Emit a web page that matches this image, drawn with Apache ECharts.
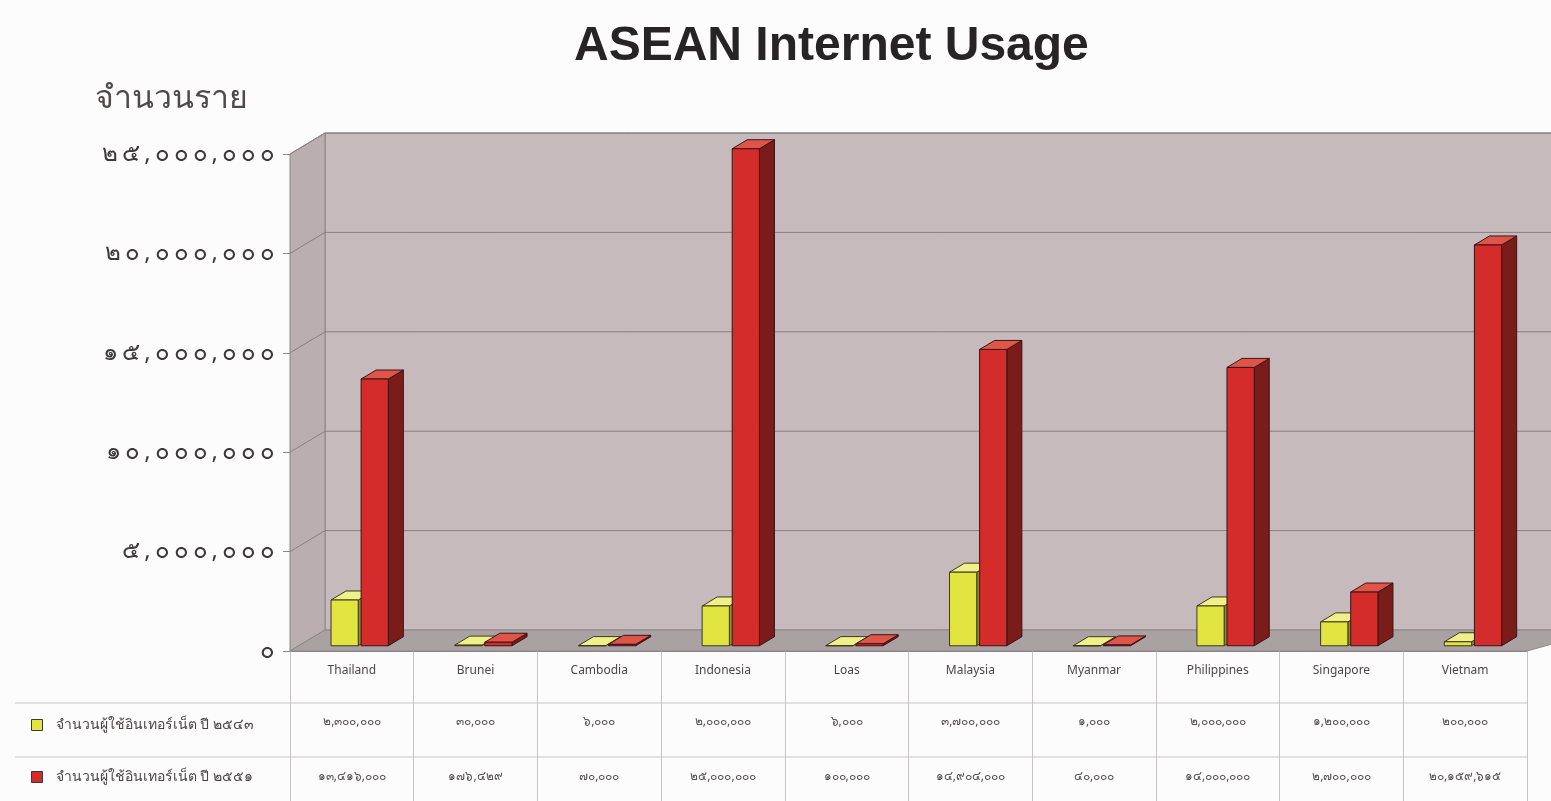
<!DOCTYPE html>
<html>
<head>
<meta charset="utf-8">
<script src="https://cdn.jsdelivr.net/npm/echarts@6/dist/echarts.min.js"></script>
<style>
  html, body { margin: 0; padding: 0; background: #fdfcfc; }
  #chart { width: 1551px; height: 801px; }
</style>
</head>
<body>
<div id="chart"></div>
<script>
// Internet users in ASEAN countries, two survey years
const categories = ['Thailand', 'Brunei', 'Cambodia', 'Indonesia', 'Loas', 'Malaysia', 'Myanmar', 'Philippines', 'Singapore', 'Vietnam'];
const seriesNames = ['จำนวนผู้ใช้อินเทอร์เน็ต ปี ๒๕๔๓', 'จำนวนผู้ใช้อินเทอร์เน็ต ปี ๒๕๕๑'];
const users2543 = [2300000, 30000, 6000, 2000000, 6000, 3700000, 1000, 2000000, 1200000, 200000];
const users2551 = [13416000, 176429, 70000, 25000000, 100000, 14904000, 40000, 14000000, 2700000, 20159615];
const yTicks = [0, 5000000, 10000000, 15000000, 20000000, 25000000];

const THAI_DIGITS = '๐๑๒๓๔๕๖๗๘๙';
function thaiNum(n) {
  return Number(n).toLocaleString('en-US').replace(/\d/g, d => THAI_DIGITS[+d]);
}
// wide, loosely tracked numerals for the value axis
function spaced(s) {
  return s.split('').join('\u2009');
}

// 3D look: offset from the front plane to the back wall
const DX = 35, DY = -21;
const FONT = "'Noto Sans', 'DejaVu Sans', sans-serif";

const palette = [
  { front: '#e2e442', top: '#f0f08a', side: '#8f9128', edge: '#3c3a18' },
  { front: '#d42c2a', top: '#e0554a', side: '#7a1c1a', edge: '#3a1414' }
];
// horizontal placement of each bar inside its category band
const barOffset = [0.261, 0.504];
const barWidth = 0.22;
const FRONT_DEPTH = 0.25, BACK_DEPTH = 0.68;

// walls, floor and 3D grid lines
function renderWalls(params, api) {
  const cs = params.coordSys;
  const base = api.coord([0, 0])[1];
  const top = api.coord([0, yTicks[yTicks.length - 1]])[1];
  const xl = cs.x, xr = cs.x + cs.width;
  const children = [
    { type: 'polygon', shape: { points: [[xl + DX, top + DY], [xr + DX + 40, top + DY], [xr + DX + 40, base + DY], [xl + DX, base + DY]] },
      style: { fill: '#c7babd', stroke: '#8c8486', lineWidth: 1 } },
    { type: 'polygon', shape: { points: [[xl, top], [xl + DX, top + DY], [xl + DX, base + DY], [xl, base]] },
      style: { fill: '#bbaeb1', stroke: '#8c8486', lineWidth: 1 } },
    { type: 'polygon', shape: { points: [[xl, base], [xl + DX, base + DY], [xr + DX + 40, base + DY], [xr, base]] },
      style: { fill: '#aaa1a3', stroke: '#8c8486', lineWidth: 1 } }
  ];
  yTicks.forEach(v => {
    if (v === 0) return;
    const y = api.coord([0, v])[1];
    children.push({ type: 'polyline', shape: { points: [[xl, y], [xl + DX, y + DY], [xr + DX + 40, y + DY]] },
      style: { stroke: '#877f81', lineWidth: 1, fill: null } });
  });
  return { type: 'group', children };
}

function makeBarRenderer(k) {
  const c = palette[k];
  return function (params, api) {
    const i = api.value(0), v = api.value(1);
    const band = api.size([1, 0])[0];
    const xc = api.coord([i, 0])[0];
    const x0 = xc - band / 2 + band * barOffset[k];
    const w = band * barWidth;
    const yb = api.coord([i, 0])[1];
    const yt = api.coord([i, v])[1];
    const fx = DX * FRONT_DEPTH, fy = DY * FRONT_DEPTH;
    const bx = DX * BACK_DEPTH, by = DY * BACK_DEPTH;
    const edge = { stroke: c.edge, lineWidth: 1 };
    return {
      type: 'group',
      children: [
        { type: 'polygon', shape: { points: [[x0 + w + fx, yt + fy], [x0 + w + bx, yt + by], [x0 + w + bx, yb + by], [x0 + w + fx, yb + fy]] },
          style: Object.assign({ fill: c.side }, edge) },
        { type: 'polygon', shape: { points: [[x0 + fx, yt + fy], [x0 + w + fx, yt + fy], [x0 + w + bx, yt + by], [x0 + bx, yt + by]] },
          style: Object.assign({ fill: c.top }, edge) },
        { type: 'rect', shape: { x: x0 + fx, y: yt + fy, width: w, height: Math.max(0, yb - yt) },
          style: Object.assign({ fill: c.front }, edge) }
      ]
    };
  };
}

// data table rows under the category labels
const ROW_LINES = [703, 757];
const ROW_TEXT = [722, 777];
function renderTable(params, api) {
  const i = api.value(0);
  const band = api.size([1, 0])[0];
  const xc = api.coord([i, 0])[0];
  const children = [];
  ROW_LINES.forEach(y => children.push({ type: 'line', shape: { x1: xc - band / 2, y1: y, x2: xc + band / 2, y2: y },
    style: { stroke: '#c8c4c4', lineWidth: 1 } }));
  [users2543[i], users2551[i]].forEach((v, r) => children.push({ type: 'text', x: xc, y: ROW_TEXT[r],
    style: { text: thaiNum(v), fill: '#565252', font: `12px ${FONT}`, align: 'center', verticalAlign: 'middle' } }));
  return { type: 'group', children };
}

const chart = echarts.init(document.getElementById('chart'));
chart.setOption({
  backgroundColor: '#fdfcfc',
  animation: false,
  title: [
    { text: 'ASEAN Internet Usage', left: 569, top: 18, textStyle: { fontFamily: "'Liberation Sans', Arial, sans-serif", fontSize: 48, fontWeight: 'bold', color: '#262424' } },
    { text: 'จำนวนราย', left: 90, top: 78, textStyle: { fontFamily: FONT, fontSize: 32, fontWeight: 'normal', color: '#4e4a4a' } }
  ],
  legend: {
    orient: 'vertical', left: 26, top: 713, itemGap: 38, itemWidth: 11, itemHeight: 11, icon: 'rect',
    data: seriesNames,
    itemStyle: { borderColor: '#3a3636', borderWidth: 1 },
    textStyle: { fontFamily: FONT, fontSize: 14, color: '#4a4646', padding: [0, 0, 0, 8] }
  },
  graphic: [
    { type: 'line', shape: { x1: 15, y1: ROW_LINES[0], x2: 290, y2: ROW_LINES[0] }, style: { stroke: '#c8c4c4', lineWidth: 1 } },
    { type: 'line', shape: { x1: 15, y1: ROW_LINES[1], x2: 290, y2: ROW_LINES[1] }, style: { stroke: '#c8c4c4', lineWidth: 1 } }
  ],
  grid: { left: 290, right: 24, top: 154, bottom: 150, containLabel: false },
  xAxis: {
    type: 'category', data: categories,
    axisLine: { show: true, lineStyle: { color: '#8c8486' } },
    axisTick: { show: true, length: 150, lineStyle: { color: '#c8c4c4' } },
    axisLabel: { margin: 14, fontFamily: FONT, fontSize: 12, color: '#4a4646' }
  },
  yAxis: {
    type: 'value', min: 0, max: 25000000, interval: 5000000,
    axisLine: { show: true, lineStyle: { color: '#8c8486' } },
    axisTick: { show: true, length: 7, lineStyle: { color: '#8c8486' } },
    splitLine: { show: false },
    axisLabel: { margin: 15, fontFamily: FONT, fontSize: 24, fontWeight: 'normal', color: '#3e3a3a', formatter: v => spaced(thaiNum(v)) }
  },
  series: [
    { type: 'custom', name: 'walls', renderItem: renderWalls, data: [[0, 0]], z: 1, silent: true },
    { type: 'custom', name: seriesNames[0], renderItem: makeBarRenderer(0), itemStyle: { color: palette[0].front },
      data: users2543.map((v, i) => [i, v]), z: 3 },
    { type: 'custom', name: seriesNames[1], renderItem: makeBarRenderer(1), itemStyle: { color: palette[1].front },
      data: users2551.map((v, i) => [i, v]), z: 3 },
    { type: 'custom', name: 'table', renderItem: renderTable, data: categories.map((c, i) => [i]), z: 2, silent: true }
  ]
});
</script>
</body>
</html>
